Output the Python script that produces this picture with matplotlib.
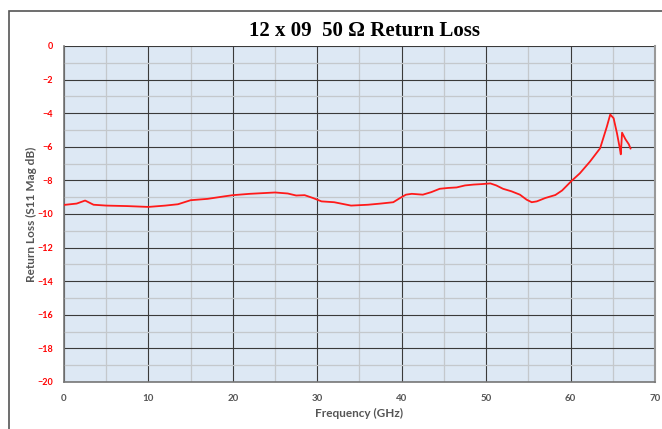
import matplotlib.pyplot as plt
from matplotlib.patches import Rectangle

# frequency (GHz) and S11 magnitude (dB)
freq = [0, 1.5, 2.5, 3.5, 5, 7.5, 10, 12, 13.5, 15, 17, 19, 20, 22, 25, 26.5,
        27.5, 28.5, 29.5, 30.5, 32, 34, 36, 37.5, 39, 39.8, 40.5, 41.2, 42.5,
        43.5, 44.5, 45.5, 46.5, 47.5, 48.5, 49.5, 50.5, 51.2, 52, 53, 54,
        54.8, 55.4, 56, 57, 58.2, 59, 60.1, 61.1, 62.3, 63.5, 64.3, 64.7,
        65.1, 65.5, 65.8, 65.95, 66.1, 66.5, 66.9, 67.1]
s11 = [-9.46, -9.38, -9.2, -9.45, -9.5, -9.53, -9.58, -9.5, -9.42, -9.18,
       -9.1, -8.95, -8.88, -8.8, -8.72, -8.78, -8.9, -8.88, -9.05, -9.25,
       -9.3, -9.5, -9.45, -9.38, -9.3, -9.05, -8.85, -8.8, -8.85, -8.7,
       -8.5, -8.45, -8.42, -8.3, -8.25, -8.22, -8.18, -8.3, -8.5, -8.65,
       -8.85, -9.15, -9.3, -9.25, -9.05, -8.87, -8.6, -8.04, -7.58, -6.88,
       -6.09, -4.8, -4.08, -4.3, -5.2, -6.0, -6.45, -5.16, -5.55, -5.85, -6.1]

xticks = list(range(0, 71, 10))
yticks = list(range(-20, 1, 2))

plt.rcParams['font.family'] = ['Lato', 'DejaVu Sans']

fig = plt.figure(figsize=(6.62, 4.29), dpi=100)
# outer chart frame
fig.patches.append(Rectangle((0.014, -0.01), 1.0, 0.984, transform=fig.transFigure,
                             fill=False, edgecolor='#555555', linewidth=1.2))

ax = fig.add_axes([0.0967, 0.1096, 0.8927, 0.7832])
ax.set_facecolor('#dde8f4')
ax.plot(freq, s11, color='#ff1a1a', linewidth=1.3, zorder=3)

ax.set_xlim(0, 70)
ax.set_ylim(-20, 0)
ax.set_xticks(xticks)
ax.set_yticks(yticks)
ax.set_xticks(range(5, 70, 10), minor=True)
ax.set_yticks(range(-19, 0, 2), minor=True)
ax.grid(which='major', color='#3a3a3a', linewidth=0.8)
ax.grid(which='minor', color='#c4c8cc', linewidth=0.9)
ax.set_axisbelow(True)
ax.tick_params(which='both', length=0)
ax.tick_params(axis='y', labelcolor='#ff0000', labelsize=6.5, pad=8)
ax.tick_params(axis='x', labelcolor='#555555', labelsize=7, pad=9)
for lab in ax.get_xticklabels() + ax.get_yticklabels():
    lab.set_fontweight('bold')

for side in ['left', 'bottom']:
    ax.spines[side].set_color('#777777')
    ax.spines[side].set_linewidth(1.2)
ax.spines['right'].set_color('#999999')
ax.spines['right'].set_linewidth(1.5)
ax.spines['top'].set_visible(False)

ax.set_xlabel('Frequency (GHz)', color='#555555', fontsize=8.5, fontweight='bold', labelpad=3)
ax.set_ylabel('Return Loss (S11 Mag dB)', color='#555555', fontsize=8.5, fontweight='bold', labelpad=0)

fig.text(0.55, 0.927, '12 x 09  50 \u03a9 Return Loss', family='Liberation Serif',
         fontsize=15, fontweight='bold', ha='center', va='center')

fig.savefig('out.png', dpi=100)
